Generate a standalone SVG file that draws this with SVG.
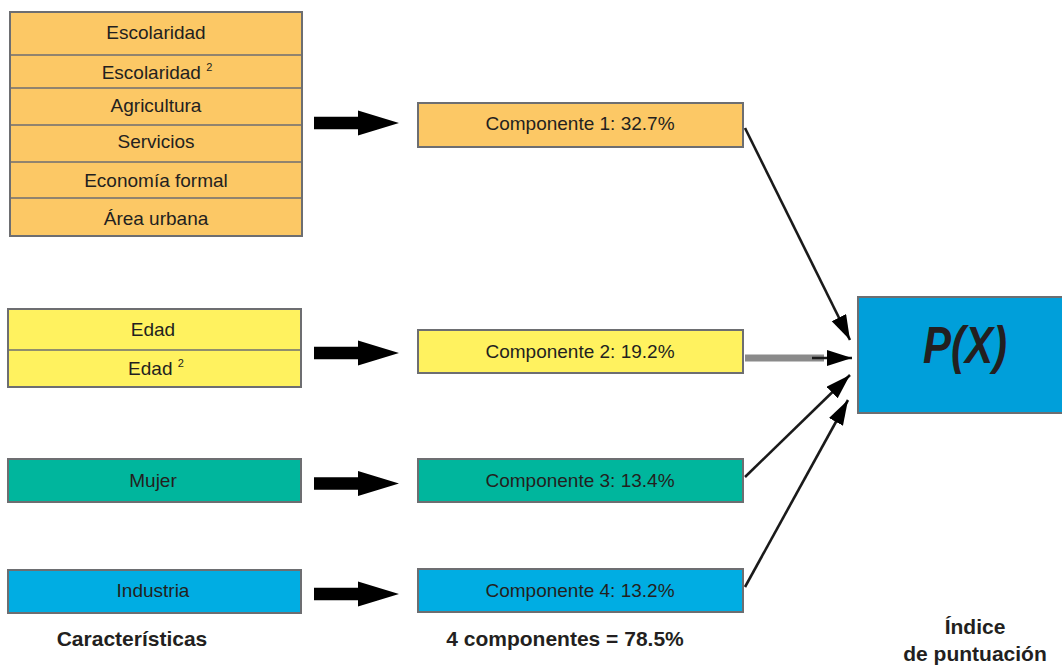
<svg xmlns="http://www.w3.org/2000/svg" width="1062" height="666" viewBox="0 0 1062 666">
  <style>
    .box { stroke: #6d6e71; stroke-width: 2; }
    .sep { stroke: #6d6e71; stroke-width: 1.5; fill: none; }
    .orange { fill: #fcc865; }
    .yellow { fill: #fff25f; }
    .teal { fill: #00b69d; }
    .cyan { fill: #00ade3; }
    .blue { fill: #009fda; }
    .lbl { font-family: "Liberation Sans", Arial, sans-serif; font-size: 19px; fill: #231f20; text-anchor: middle; }
    .sup { font-size: 11px; }
    .cap { font-family: "Liberation Sans", Arial, sans-serif; font-size: 21px; font-weight: bold; fill: #231f20; text-anchor: middle; }
    .link { stroke: #1a1a1a; stroke-width: 2.6; fill: none; marker-end: url(#head); }
  </style>
  <defs>
    <marker id="head" markerUnits="userSpaceOnUse" markerWidth="28" markerHeight="18" refX="25" refY="8" orient="auto">
      <path d="M0,0 L25,8 L0,16 Z" fill="#000"/>
    </marker>
    <!-- block arrow, centred vertically on y=0 -->
    <path id="block" d="M314,-6.3 H358 V-12.5 L399,0 L358,12.5 V6.3 H314 Z" fill="#000"/>
  </defs>

  <rect width="1062" height="666" fill="#fff"/>

  <!-- characteristics -->
  <g id="grupo-escolaridad">
    <rect class="box orange" x="10" y="12" width="292" height="224"/>
    <path class="sep" d="M10,55 H302 M10,88 H302 M10,125 H302 M10,162 H302 M10,198 H302"/>
    <text class="lbl" x="156" y="39">Escolaridad</text>
    <text class="lbl" x="157" y="79">Escolaridad <tspan class="sup" dy="-8">2</tspan></text>
    <text class="lbl" x="156" y="112">Agricultura</text>
    <text class="lbl" x="156" y="148">Servicios</text>
    <text class="lbl" x="156" y="187">Economía formal</text>
    <text class="lbl" x="156" y="225">Área urbana</text>
  </g>
  <g id="grupo-edad">
    <rect class="box yellow" x="8" y="309" width="293" height="78"/>
    <path class="sep" d="M8,350 H301"/>
    <text class="lbl" x="153" y="336">Edad</text>
    <text class="lbl" x="156" y="375">Edad <tspan class="sup" dy="-8">2</tspan></text>
  </g>
  <g id="mujer">
    <rect class="box teal" x="8" y="459" width="293" height="43"/>
    <text class="lbl" x="153" y="487">Mujer</text>
  </g>
  <g id="industria">
    <rect class="box cyan" x="8" y="570" width="293" height="43"/>
    <text class="lbl" x="153" y="597">Industria</text>
  </g>

  <!-- block arrows -->
  <g id="flechas">
    <use href="#block" transform="translate(0,123)"/>
    <use href="#block" transform="translate(0,353)"/>
    <use href="#block" transform="translate(0,483.5)"/>
    <use href="#block" transform="translate(0,594)"/>
  </g>

  <!-- components -->
  <g id="componente-1">
    <rect class="box orange" x="418" y="103" width="325" height="44"/>
    <text class="lbl" x="580" y="130">Componente 1: 32.7%</text>
  </g>
  <g id="componente-2">
    <rect class="box yellow" x="418" y="330" width="325" height="43"/>
    <text class="lbl" x="580" y="358">Componente 2: 19.2%</text>
  </g>
  <g id="componente-3">
    <rect class="box teal" x="418" y="459" width="325" height="43"/>
    <text class="lbl" x="580" y="487">Componente 3: 13.4%</text>
  </g>
  <g id="componente-4">
    <rect class="box cyan" x="418" y="569" width="325" height="43"/>
    <text class="lbl" x="580" y="597">Componente 4: 13.2%</text>
  </g>

  <!-- connectors to the index -->
  <g id="conectores">
    <path class="link" d="M745,128 L850,340"/>
    <line x1="745" y1="358" x2="824" y2="358" stroke="#8a8a8a" stroke-width="7"/>
    <path class="link" d="M812,358 L852,358"/>
    <path class="link" d="M745,477 L850,375"/>
    <path class="link" d="M745,587 L848,400"/>
  </g>

  <!-- index box -->
  <g id="px">
    <rect class="box blue" x="858" y="297" width="210" height="116"/>
    <text x="965" y="363" font-family="'Liberation Sans', Arial, sans-serif" font-size="51" font-weight="bold" font-style="italic" fill="#231f20" text-anchor="middle" textLength="84" lengthAdjust="spacingAndGlyphs">P(X)</text>
  </g>

  <!-- captions -->
  <g id="rotulos">
    <text class="cap" x="132" y="646">Características</text>
    <text class="cap" x="565" y="646">4 componentes = 78.5%</text>
    <text class="cap" x="975" y="634">Índice</text>
    <text class="cap" x="975" y="661">de puntuación</text>
  </g>
</svg>
